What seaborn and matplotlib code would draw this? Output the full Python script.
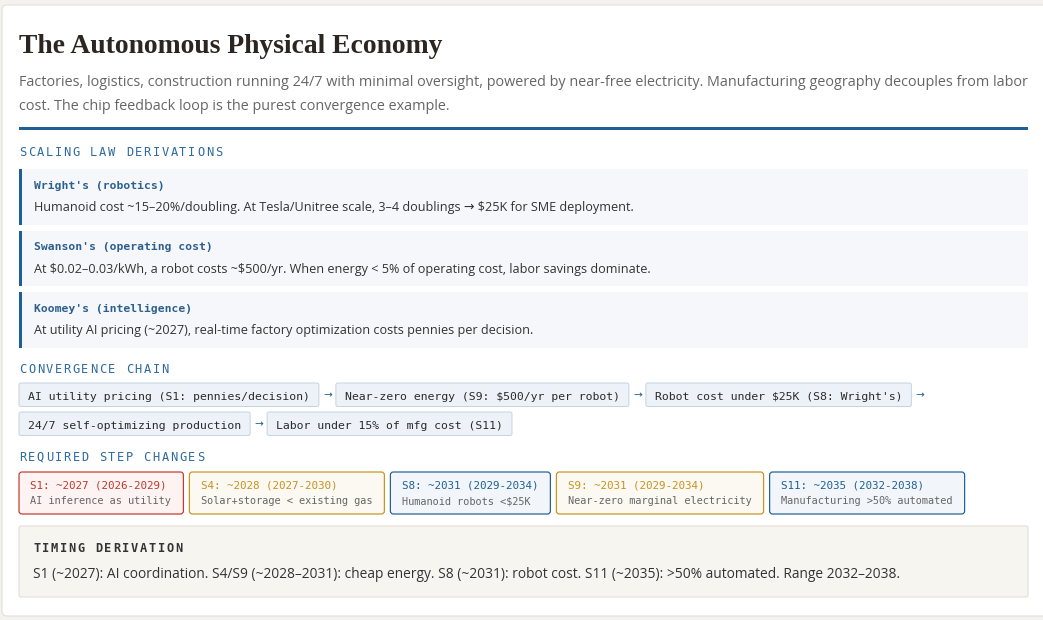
import matplotlib
matplotlib.use("Agg")
import matplotlib.pyplot as plt
from matplotlib.patches import FancyBboxPatch, Rectangle
import seaborn as sns

# ---- content ----
title = "The Autonomous Physical Economy"
subtitle_lines = [
    "Factories, logistics, construction running 24/7 with minimal oversight, powered by near-free electricity. Manufacturing geography decouples from labor",
    "cost. The chip feedback loop is the purest convergence example.",
]

law_names = ["Wright's (robotics)", "Swanson's (operating cost)", "Koomey's (intelligence)"]
law_texts = [
    "Humanoid cost ~15\u201320%/doubling. At Tesla/Unitree scale, 3\u20134 doublings \u2192 $25K for SME deployment.",
    "At $0.02\u20130.03/kWh, a robot costs ~$500/yr. When energy < 5% of operating cost, labor savings dominate.",
    "At utility AI pricing (~2027), real-time factory optimization costs pennies per decision.",
]

chain_steps = [
    "AI utility pricing (S1: pennies/decision)",
    "Near-zero energy (S9: $500/yr per robot)",
    "Robot cost under $25K (S8: Wright's)",
    "24/7 self-optimizing production",
    "Labor under 15% of mfg cost (S11)",
]

step_codes = ["S1", "S4", "S8", "S9", "S11"]
step_years = [2027, 2028, 2031, 2031, 2035]
step_lo = [2026, 2027, 2029, 2029, 2032]
step_hi = [2029, 2030, 2034, 2034, 2038]
step_desc = [
    "AI inference as utility",
    "Solar+storage < existing gas",
    "Humanoid robots <$25K",
    "Near-zero marginal electricity",
    "Manufacturing >50% automated",
]
step_domain = ["ai", "energy", "robotics", "energy", "manufacturing"]

timing_text = ("S1 (~2027): AI coordination. S4/S9 (~2028\u20132031): cheap energy. "
               "S8 (~2031): robot cost. S11 (~2035): >50% automated. Range 2032\u20132038.")

# ---- style ----
sns.set_style("white")
plt.rcParams["font.family"] = ["Open Sans", "DejaVu Sans"]

BLUE = "#1f5f96"
domain_style = {
    "ai": ("#c0392b", "#fdf3f3"),
    "energy": ("#c8921e", "#fbf9f1"),
    "robotics": (BLUE, "#f2f6fa"),
    "manufacturing": (BLUE, "#f2f6fa"),
}
MONO = ["DejaVu Sans Mono"]
SANS = ["Open Sans", "DejaVu Sans"]
PX = 0.72  # points per pixel at 100 dpi

fig = plt.figure(figsize=(10.43, 6.2), dpi=100)
fig.patch.set_facecolor("#f4f2ee")
ax = fig.add_axes([0, 0, 1, 1])
ax.set_xlim(0, 1043)
ax.set_ylim(620, 0)
ax.axis("off")
renderer = fig.canvas.get_renderer()


def txt(x, y, s, **kw):
    kw.setdefault("va", "baseline")
    return ax.text(x, y, s, parse_math=False, **kw)


def width_of(t):
    return t.get_window_extent(renderer).width


def fit_size(s, target_px, family, size=10):
    # font size (pt) at which s is about target_px wide
    t = txt(0, 0, s, family=family, fontsize=size)
    w = width_of(t)
    t.remove()
    return size * target_px / w


def spaced(x, y, s, step, **kw):
    for i, ch in enumerate(s):
        txt(x + i * step, y, ch, ha="left", **kw)


def section(x, y, s, color="#2e6a9e", weight="normal"):
    spaced(x, y, s, 8.9, family=MONO, fontsize=12 * PX, color=color, fontweight=weight)


# card
ax.add_patch(FancyBboxPatch((2, 5), 1070, 611, boxstyle="round,pad=0,rounding_size=5",
                            fc="white", ec="#e0ddd6", lw=1 * PX))

# header
txt(19, 53, title, family=["Liberation Serif"], fontweight="bold",
    fontsize=27.6 * PX, color="#2b2622")
sub_size = fit_size(subtitle_lines[0], 1009, SANS)
for i, line in enumerate(subtitle_lines):
    txt(19, 86 + 24 * i, line, family=SANS, fontsize=sub_size, color="#666666")
ax.add_patch(Rectangle((19, 127), 1009, 3, fc=BLUE, ec="none"))

# scaling laws
section(19, 156, "SCALING LAW DERIVATIONS")
body_size = fit_size(law_texts[0], 600, SANS)
for i, (name, body) in enumerate(zip(law_names, law_texts)):
    top = 169 + 61.5 * i
    ax.add_patch(Rectangle((19, top), 1009, 55.5, fc="#f5f7fa", ec="none"))
    ax.add_patch(Rectangle((19, top), 3, 55.5, fc=BLUE, ec="none"))
    txt(34, top + 20, name, family=MONO, fontweight="bold",
        fontsize=11.4 * PX, color="#2d5f8f")
    txt(34, top + 42, body, family=SANS, fontsize=body_size, color="#333333")

# convergence chain (flow layout)
section(19, 373, "CONVERGENCE CHAIN")
x, top = 19, 383
for i, step in enumerate(chain_steps):
    t = txt(0, 0, step, family=MONO, fontsize=11.5 * PX, color="#2b2b2b")
    bw = width_of(t) + 18
    if x + bw > 1028:
        x, top = 19, top + 29
    t.set_position((x + 9, top + 17))
    ax.add_patch(FancyBboxPatch((x, top), bw, 23.5, boxstyle="round,pad=0,rounding_size=2",
                                fc="#edf2f8", ec="#c6d4e2", lw=1 * PX))
    if i < len(chain_steps) - 1:
        txt(x + bw + 8.5, top + 12.5, "\u2192", family=["DejaVu Sans"], fontsize=10.5 * PX,
            color=BLUE, ha="center", va="center")
    x += bw + 17

# required step changes
section(19, 461, "REQUIRED STEP CHANGES")
x = 19
for code, yr, lo, hi, desc, dom in zip(step_codes, step_years, step_lo, step_hi,
                                       step_desc, step_domain):
    edge, face = domain_style[dom]
    t1 = txt(0, 0, f"{code}: ~{yr} ({lo}-{hi})", family=MONO, fontsize=10.9 * PX, color=edge)
    t2 = txt(0, 0, desc, family=MONO, fontsize=10.3 * PX, color="#666666")
    bw = max(width_of(t1), width_of(t2)) + 23.5
    ax.add_patch(FancyBboxPatch((x, 472), bw, 42, boxstyle="round,pad=0,rounding_size=3",
                                fc=face, ec=edge, lw=1.2 * PX))
    t1.set_position((x + 11.5, 489))
    t2.set_position((x + 11.5, 504))
    x += bw + 6

# timing derivation
ax.add_patch(FancyBboxPatch((19, 526), 1009, 71, boxstyle="round,pad=0,rounding_size=2",
                            fc="#f6f5f0", ec="#e0ddd5", lw=1 * PX))
section(33, 552, "TIMING DERIVATION", color="#333333", weight="bold")
txt(33, 578, timing_text, family=SANS, fontsize=fit_size(timing_text, 869, SANS),
    color="#333333")

fig.savefig("out.png", dpi=100, facecolor=fig.get_facecolor())
